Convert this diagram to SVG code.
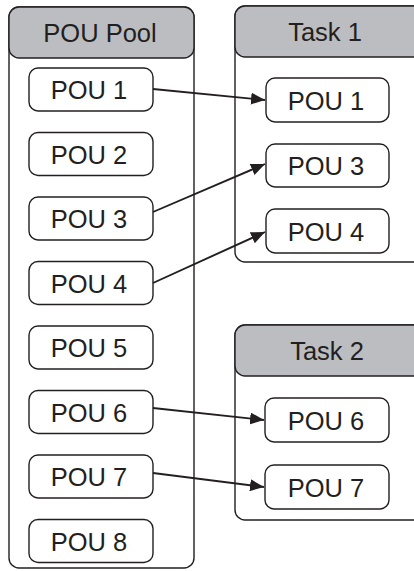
<svg xmlns="http://www.w3.org/2000/svg" width="414" height="571" viewBox="0 0 414 571">
<defs>
<style>
.body{fill:#fff;stroke:#231f20;stroke-width:1.4}
.hdr{fill:#bcbdc0;stroke:#231f20;stroke-width:1.4}
.box{fill:#fff;stroke:#231f20;stroke-width:1.4}
.t{font-family:"Liberation Sans",Arial,sans-serif;font-size:25.5px;fill:#231f20;text-anchor:middle;dominant-baseline:central}
.c{fill:none;stroke:#231f20;stroke-width:1.9}
</style>
<marker id="ah" viewBox="0 0 14 12" refX="14" refY="6" markerWidth="14" markerHeight="12" markerUnits="userSpaceOnUse" orient="auto">
<path d="M0,0 L14,6 L0,12 z" fill="#231f20"/>
</marker>
</defs>
<g id="pool">
<rect class="body" x="9" y="7" width="185" height="561" rx="10"/>
<rect class="hdr" x="9" y="7" width="185" height="51" rx="10"/>
<text class="t" x="100" y="33">POU Pool</text>
</g>
<g id="task1">
<rect class="body" x="235" y="6" width="200" height="256" rx="10"/>
<rect class="hdr" x="235" y="6" width="200" height="51" rx="10"/>
<text class="t" x="325" y="32">Task 1</text>
</g>
<g id="task2">
<rect class="body" x="235" y="325" width="200" height="195" rx="10"/>
<rect class="hdr" x="235" y="325" width="200" height="51" rx="10"/>
<text class="t" x="327" y="351">Task 2</text>
</g>
<g id="p1"><rect class="box" x="29" y="68" width="124" height="43" rx="9"/><text class="t" x="89" y="90">POU 1</text></g>
<g id="p2"><rect class="box" x="29" y="132.5" width="124" height="43" rx="9"/><text class="t" x="89" y="154.5">POU 2</text></g>
<g id="p3"><rect class="box" x="29" y="197" width="124" height="43" rx="9"/><text class="t" x="89" y="219">POU 3</text></g>
<g id="p4"><rect class="box" x="29" y="261.5" width="124" height="43" rx="9"/><text class="t" x="89" y="283.5">POU 4</text></g>
<g id="p5"><rect class="box" x="29" y="326" width="124" height="43" rx="9"/><text class="t" x="89" y="348">POU 5</text></g>
<g id="p6"><rect class="box" x="29" y="390.5" width="124" height="43" rx="9"/><text class="t" x="89" y="412.5">POU 6</text></g>
<g id="p7"><rect class="box" x="29" y="455" width="124" height="43" rx="9"/><text class="t" x="89" y="477">POU 7</text></g>
<g id="p8"><rect class="box" x="29" y="519.5" width="124" height="43" rx="9"/><text class="t" x="89" y="541.5">POU 8</text></g>
<g id="t1p1"><rect class="box" x="266" y="78" width="123" height="44" rx="9"/><text class="t" x="326" y="100.5">POU 1</text></g>
<g id="t1p3"><rect class="box" x="266" y="144" width="123" height="43" rx="9"/><text class="t" x="326" y="166">POU 3</text></g>
<g id="t1p4"><rect class="box" x="266" y="209" width="123" height="44" rx="9"/><text class="t" x="326" y="231.5">POU 4</text></g>
<g id="t2p6"><rect class="box" x="265" y="398" width="124" height="44" rx="9"/><text class="t" x="326" y="420.5">POU 6</text></g>
<g id="t2p7"><rect class="box" x="265" y="465" width="124" height="44" rx="9"/><text class="t" x="326" y="487.5">POU 7</text></g>
<g id="connectors">
<line class="c" x1="153" y1="89" x2="265" y2="100" marker-end="url(#ah)"/>
<line class="c" x1="153" y1="212" x2="265" y2="164" marker-end="url(#ah)"/>
<line class="c" x1="153" y1="283" x2="265" y2="232" marker-end="url(#ah)"/>
<line class="c" x1="153" y1="408" x2="264" y2="420" marker-end="url(#ah)"/>
<line class="c" x1="153" y1="473" x2="264" y2="487" marker-end="url(#ah)"/>
</g>
</svg>
